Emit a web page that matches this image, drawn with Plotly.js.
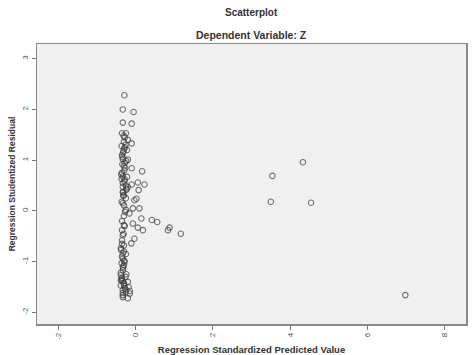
<!DOCTYPE html>
<html>
<head>
<meta charset="utf-8">
<script src="https://cdn.plot.ly/plotly-3.0.1.min.js"></script>
<style>html,body{margin:0;padding:0;background:#fff}#chart{width:473px;height:355px}</style>
</head>
<body>
<div id="chart"></div>
<script>
// Regression standardized predicted values (x) and studentized residuals (y)
const predicted = [
  -0.29,-0.33,-0.05,-0.33,-0.10,-0.35,-0.25,-0.28,-0.20,-0.30,-0.10,-0.30,-0.22,-0.32,-0.35,
  -0.33,-0.20,-0.28,-0.10,0.17,-0.30,-0.35,-0.33,-0.22,-0.28,0.06,0.23,-0.33,-0.25,-0.33,
  -0.20,-0.10,0.08,-0.33,-0.30,0.02,-0.25,-0.03,-0.33,-0.30,-0.07,0.10,-0.25,-0.16,-0.30,
  0.15,0.42,0.56,-0.35,-0.07,-0.30,0.06,0.88,0.84,0.19,-0.35,1.17,-0.33,-0.03,-0.35,
  -0.11,-0.30,-0.38,-0.30,-0.33,-0.35,-0.33,-0.30,-0.36,-0.33,-0.33,-0.38,-0.38,-0.35,-0.38,
  -0.20,-0.30,-0.38,-0.18,-0.28,-0.33,-0.15,-0.25,-0.15,-0.33,-0.33,-0.20,
  -0.26,-0.36,-0.31,-0.24,-0.34,-0.27,-0.37,-0.29,-0.23,-0.32,-0.36,-0.27,-0.31,-0.25,
  -0.35,-0.28,-0.32,-0.24,-0.36,-0.30,-0.26,
  -0.31,-0.27,-0.34,-0.29,-0.36,-0.24,-0.32,-0.28,-0.37,-0.30,-0.26,-0.34,-0.29,-0.33,
  3.54,4.33,3.50,4.54,6.98
];
const residual = [
  2.28,2.00,1.95,1.74,1.72,1.53,1.53,1.45,1.40,1.36,1.33,1.23,1.20,1.15,1.10,
  1.02,1.01,0.95,0.84,0.78,0.88,0.75,0.68,0.67,0.62,0.56,0.52,0.55,0.50,0.47,
  0.47,0.52,0.41,0.36,0.31,0.24,0.25,0.21,0.15,0.11,0.05,0.05,0.02,-0.05,-0.10,
  -0.15,-0.18,-0.22,-0.20,-0.25,-0.28,-0.33,-0.33,-0.38,-0.38,-0.38,-0.45,-0.48,-0.55,-0.58,
  -0.64,-0.68,-0.74,-0.80,-0.84,-0.90,-0.94,-0.98,-1.03,-1.10,-1.17,-1.22,-1.27,-1.32,-1.37,
  -1.40,-1.42,-1.47,-1.50,-1.52,-1.56,-1.58,-1.60,-1.63,-1.66,-1.70,-1.72,
  1.30,1.28,1.18,0.98,0.92,0.85,0.72,0.58,0.42,0.30,0.18,-0.02,-0.45,-0.85,
  -0.65,-1.00,-1.13,-1.25,-1.35,-1.45,-1.55,
  1.48,1.25,1.06,0.80,0.63,0.44,0.38,-0.30,-0.77,-1.07,-1.30,-1.38,-1.48,-1.62,
  0.69,0.96,0.18,0.16,-1.66
];
const xTicks = [-2, 0, 2, 4, 6, 8];
const yTicks = [-2, -1, 0, 1, 2, 3];

const FONT = 'Liberation Sans, Arial, sans-serif';

const trace = {
  x: predicted, y: residual, type: 'scatter', mode: 'markers',
  marker: {symbol: 'circle-open', size: 5.5, color: 'rgba(60,60,60,0.7)', line: {width: 1.1}},
  hoverinfo: 'none'
};

const axisCommon = {
  showgrid: false, zeroline: false, showline: true, mirror: true,
  linecolor: '#8a8a8a', linewidth: 1.5,
  ticks: 'outside', ticklen: 4, tickcolor: '#777', tickwidth: 1,
  tickfont: {family: FONT, size: 8, color: '#555'}
};

const layout = {
  width: 473, height: 355,
  margin: {l: 37, r: 7, t: 44, b: 31},
  paper_bgcolor: '#ffffff', plot_bgcolor: '#f0f0f0',
  showlegend: false,
  annotations: [
    {text: '<b>Scatterplot</b>', xref: 'paper', yref: 'paper', x: 0.5, y: 1, yshift: 32,
     showarrow: false, xanchor: 'center', yanchor: 'middle',
     font: {family: FONT, size: 10, color: '#333'}},
    {text: '<b>Dependent Variable: Z</b>', xref: 'paper', yref: 'paper', x: 0.5, y: 1, yshift: 9,
     showarrow: false, xanchor: 'center', yanchor: 'middle',
     font: {family: FONT, size: 10.5, color: '#333'}}
  ],
  xaxis: Object.assign({}, axisCommon, {
    range: [-2.55, 8.55], tickvals: xTicks, ticktext: xTicks.map(String), tickangle: -90,
    title: {text: '<b>Regression Standardized Predicted Value</b>', standoff: 7,
            font: {family: FONT, size: 9.5, color: '#333'}}
  }),
  yaxis: Object.assign({}, axisCommon, {
    range: [-2.23, 3.29], tickvals: yTicks, ticktext: yTicks.map(String), tickangle: -90,
    title: {text: '<b>Regression Studentized Residual</b>', standoff: 4,
            font: {family: FONT, size: 8.5, color: '#333'}}
  })
};

Plotly.newPlot('chart', [trace], layout, {displayModeBar: false, staticPlot: true});
</script>
</body>
</html>
